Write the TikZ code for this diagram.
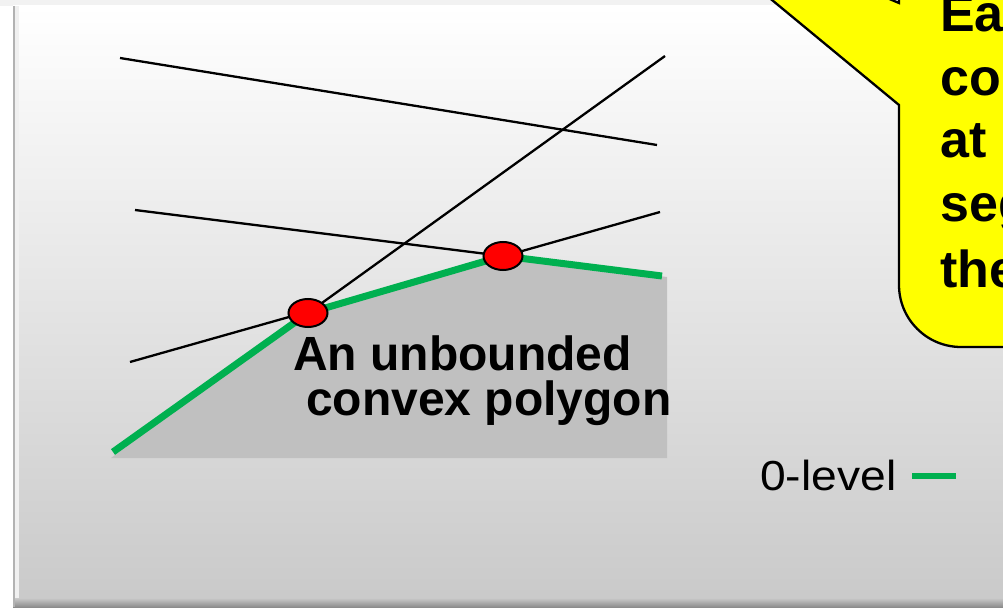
\documentclass[tikz,border=0pt]{standalone}
\usepackage{fontspec}
\usepackage{graphicx}
\setmainfont{Liberation Sans}
\usetikzlibrary{shapes.geometric}
\definecolor{levgreen}{HTML}{00B050}
\definecolor{polygray}{HTML}{C0C0C0}
\definecolor{stripgray}{HTML}{F2F2F2}
\definecolor{framebot}{HTML}{C9C9C9}
\definecolor{framemid}{HTML}{F0F0F0}
\definecolor{calloutyellow}{HTML}{FFFF00}
\tikzset{
  thinline/.style={line width=2.3pt, black},
  levelline/.style={line width=7pt, levgreen, line join=miter},
  reddot/.style={ellipse, draw=black, line width=2pt, fill=red, minimum width=39pt, minimum height=28pt, inner sep=0pt},
  bigtext/.style={font=\bfseries\fontsize{48}{48}\selectfont, inner sep=0pt, anchor=base west},
  calltext/.style={font=\bfseries\fontsize{52}{52}\selectfont, inner sep=0pt, anchor=base west},
}
\begin{document}
\begin{tikzpicture}[x=1pt,y=-1pt]
\useasboundingbox (0,0) rectangle (1003,609);
% page background
\fill[white] (0,0) rectangle (1003,609);
\fill[stripgray] (0,0) rectangle (1003,6);
% slide frame
\shade[top color=white, middle color=framemid, bottom color=framebot] (13,6) rectangle (1010,606);
\shade[top color=framebot, bottom color=black!45] (13,598) rectangle (1010,607);
\draw[line width=2pt, black!30] (13.5,6) -- (13.5,607);
\fill[black!6] (14.5,6) rectangle (19,598);
% callout
\draw[line width=2.3pt, fill=calloutyellow, line join=miter]
  (899,3) -- (651,-100) -- (899,105) -- (899,285)
  arc[start angle=180, end angle=90, radius=62] -- (1040,347) -- (1040,-40) -- (899,-40) -- cycle;
\node[calltext] (c1) at (940,32) {Ea};
\node[calltext] (c2) at (940,96) {co};
\node[calltext] (c3) at (940,158) {at};
\node[calltext] (c4) at (940,222) {seg};
\node[calltext] (c5) at (940,288) {the};
% key points
\coordinate (p1) at (308,313);
\coordinate (p2) at (503,256);
\coordinate (g0) at (113,452);
\coordinate (g3) at (662,276);
% polygon
\fill[polygray] (111,458) -- (p1) -- (p2) -- (667,277) -- (667,458) -- cycle;
% lines
\coordinate (a1) at (120,58);  \coordinate (a2) at (657,145);
\coordinate (b1) at (665,56);
\coordinate (d1) at (135,210);
\coordinate (e1) at (130,362); \coordinate (e2) at (660,212);
\draw[thinline] (a1) -- (a2);
\draw[thinline] (b1) -- (p1);
\draw[thinline] (d1) -- (p2);
\draw[thinline] (e1) -- (e2);
% 0-level chain
\draw[levelline] (g0) -- (p1) -- (p2) -- (g3);
\node[reddot] (r1) at (p1) {};
\node[reddot] (r2) at (p2) {};
% labels
\node[bigtext] (t1) at (293,370) {An unbounded};
\node[bigtext] (t2) at (306,415) {convex polygon};
% legend
\node[inner sep=0pt, anchor=base west, font=\fontsize{42}{42}\selectfont] (leg) at (760,490) {\scalebox{1.1}[1]{0-level}};
\coordinate (l1) at (912,476); \coordinate (l2) at (956,476);
\draw[line width=6pt, levgreen] (l1) -- (l2);
\end{tikzpicture}
\end{document}
